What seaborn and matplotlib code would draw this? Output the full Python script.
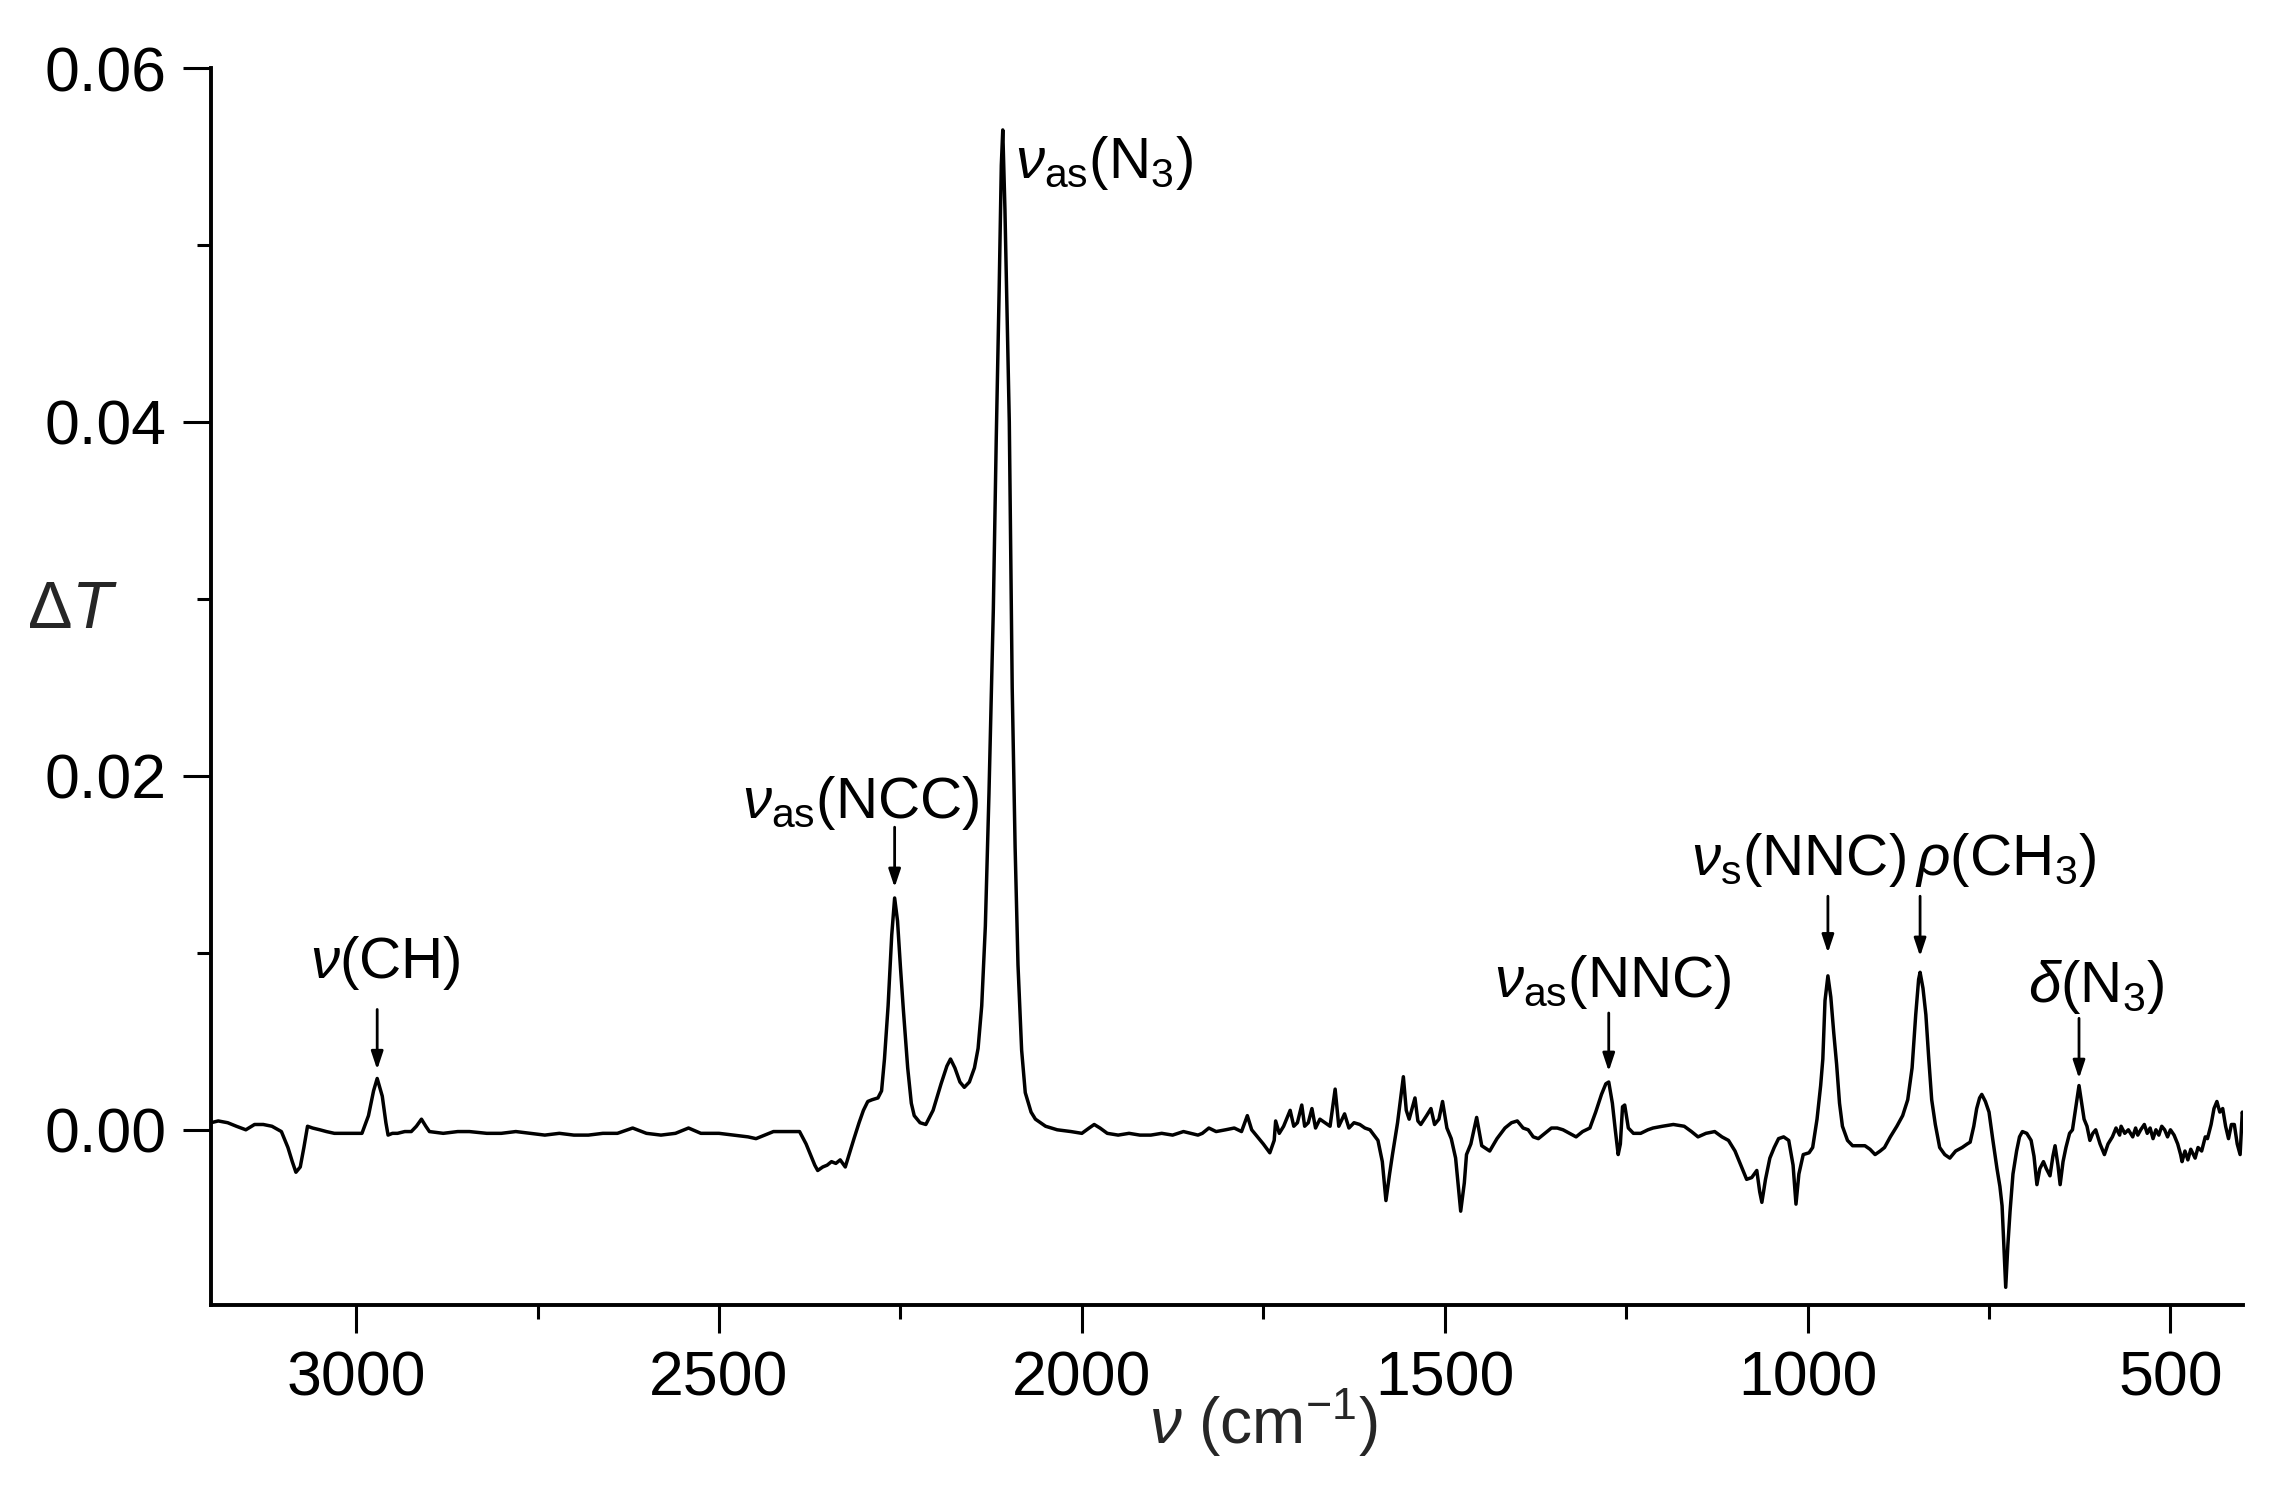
import matplotlib
matplotlib.use("Agg")
import matplotlib.pyplot as plt
from matplotlib.ticker import MultipleLocator, FormatStrFormatter
import seaborn as sns
import pandas as pd

# ---- data ----
wavenumber = [
    3200, 3190, 3177, 3165, 3152, 3140, 3128, 3116, 3103, 3094, 3088, 3083, 3077, 3072, 3067, 3060,
    3050, 3041, 3030, 3017, 3005, 2992, 2983, 2976, 2971, 2964, 2959, 2956, 2950, 2943, 2933, 2924,
    2917, 2910, 2904, 2899, 2880, 2860, 2844, 2820, 2800, 2780, 2760, 2740, 2720, 2700, 2680, 2660,
    2640, 2619, 2600, 2580, 2560, 2542, 2525, 2500, 2480, 2460, 2449, 2437, 2425, 2405, 2389, 2380,
    2376, 2368, 2364, 2357, 2351, 2345, 2339, 2333, 2326, 2320, 2314, 2307, 2301, 2295, 2289, 2281,
    2276, 2272, 2267, 2262, 2258, 2254, 2250, 2246, 2240, 2235, 2231, 2223, 2215, 2205, 2194, 2186,
    2181, 2175, 2168, 2162, 2155, 2148, 2143, 2138, 2133, 2128, 2122, 2118, 2114, 2111, 2109, 2106,
    2103, 2100, 2096, 2092, 2088, 2083, 2078, 2070, 2064, 2050, 2034, 2015, 2000, 1990, 1983, 1975,
    1965, 1950, 1935, 1920, 1905, 1890, 1875, 1860, 1850, 1840, 1834, 1825, 1815, 1802, 1790, 1780,
    1772, 1766, 1758, 1750, 1741, 1735, 1733, 1728, 1722, 1716, 1713, 1708, 1703, 1697, 1693, 1688,
    1683, 1678, 1672, 1665, 1658, 1651, 1646, 1638, 1632, 1625, 1617, 1610, 1603, 1592, 1586, 1581,
    1576, 1572, 1565, 1557, 1553, 1549, 1541, 1537, 1533, 1525, 1519, 1514, 1508, 1503, 1497, 1491,
    1485, 1478, 1473, 1470, 1464, 1456, 1449, 1438, 1428, 1417, 1408, 1400, 1392, 1385, 1378, 1371,
    1362, 1353, 1345, 1337, 1328, 1319, 1310, 1300, 1292, 1284, 1278, 1274, 1269, 1265, 1261, 1258,
    1255, 1252, 1247, 1240, 1230, 1220, 1213, 1200, 1185, 1170, 1160, 1151, 1140, 1128, 1118, 1109,
    1100, 1092, 1084, 1077, 1070, 1066, 1063, 1058, 1052, 1046, 1040, 1033, 1026, 1020, 1016, 1012,
    1006, 998, 993, 987, 982, 979, 976, 972, 968, 964, 960, 956, 952, 945, 938, 930,
    921, 914, 907, 900, 894, 886, 877, 869, 862, 856, 851, 847, 845, 841, 837, 833,
    829, 824, 818, 811, 804, 796, 787, 780, 776, 771, 767, 763, 760, 755, 750, 745,
    739, 735, 732, 729, 727, 724, 721, 717, 712, 708, 704, 698, 692, 688, 684, 680,
    675, 671, 666, 662, 659, 655, 652, 648, 644, 639, 635, 630, 626, 622, 619, 615,
    611, 607, 603, 597, 591, 586, 580, 575, 570, 568, 563, 558, 552, 548, 545, 541,
    536, 532, 528, 524, 520, 516, 512, 508, 504, 500, 495, 490, 486, 484, 480, 476,
    472, 466, 462, 457, 452, 449, 444, 440, 436, 432, 428, 424, 420, 416, 412, 408,
    404, 401, 400,
]
delta_t = [
    0.0004, 0.0005, 0.0004, 0.0002, 0.0000, 0.0003, 0.0003, 0.0002, -0.0001, -0.0010, -0.0018, -0.0024, -0.0021, -0.0010, 0.0002, 0.0001,
    0.0000, -0.0001, -0.0002, -0.0002, -0.0002, -0.0002, 0.0008, 0.0022, 0.0029, 0.0019, 0.0004, -0.0003, -0.0002, -0.0002, -0.0001, -0.0001,
    0.0002, 0.0006, 0.0002, -0.0001, -0.0002, -0.0001, -0.0001, -0.0002, -0.0002, -0.0001, -0.0002, -0.0003, -0.0002, -0.0003, -0.0003, -0.0002,
    -0.0002, 0.0001, -0.0002, -0.0003, -0.0002, 0.0001, -0.0002, -0.0002, -0.0003, -0.0004, -0.0005, -0.0003, -0.0001, -0.0001, -0.0001, -0.0008,
    -0.0012, -0.0020, -0.0023, -0.0021, -0.0020, -0.0018, -0.0019, -0.0017, -0.0021, -0.0013, -0.0005, 0.0004, 0.0011, 0.0016, 0.0017, 0.0018,
    0.0022, 0.0040, 0.0070, 0.0110, 0.0131, 0.0118, 0.0092, 0.0068, 0.0035, 0.0015, 0.0008, 0.0004, 0.0003, 0.0011, 0.0026, 0.0036,
    0.0040, 0.0035, 0.0027, 0.0024, 0.0027, 0.0035, 0.0046, 0.0070, 0.0115, 0.0190, 0.0294, 0.0390, 0.0474, 0.0545, 0.0565, 0.0520,
    0.0460, 0.0400, 0.0250, 0.0160, 0.0093, 0.0045, 0.0021, 0.0010, 0.0006, 0.0002, 0.0000, -0.0001, -0.0002, 0.0001, 0.0003, 0.0001,
    -0.0002, -0.0003, -0.0002, -0.0003, -0.0003, -0.0002, -0.0003, -0.0001, -0.0002, -0.0003, -0.0002, 0.0001, -0.0001, 0.0000, 0.0001, -0.0001,
    0.0008, 0.0000, -0.0004, -0.0008, -0.0013, -0.0006, 0.0005, -0.0002, 0.0002, 0.0008, 0.0011, 0.0002, 0.0004, 0.0014, 0.0002, 0.0004,
    0.0012, 0.0001, 0.0006, 0.0004, 0.0002, 0.0023, 0.0002, 0.0009, 0.0001, 0.0004, 0.0003, 0.0001, 0.0000, -0.0006, -0.0018, -0.0040,
    -0.0025, -0.0014, 0.0004, 0.0030, 0.0011, 0.0006, 0.0018, 0.0005, 0.0003, 0.0008, 0.0012, 0.0003, 0.0006, 0.0016, 0.0001, -0.0005,
    -0.0016, -0.0046, -0.0030, -0.0014, -0.0008, 0.0007, -0.0009, -0.0012, -0.0005, 0.0001, 0.0004, 0.0005, 0.0001, 0.0000, -0.0004, -0.0005,
    -0.0002, 0.0001, 0.0001, 0.0000, -0.0002, -0.0004, -0.0001, 0.0001, 0.0010, 0.0020, 0.0026, 0.0027, 0.0015, 0.0000, -0.0014, -0.0008,
    0.0013, 0.0014, 0.0001, -0.0002, -0.0002, 0.0000, 0.0001, 0.0002, 0.0003, 0.0002, -0.0001, -0.0004, -0.0002, -0.0001, -0.0004, -0.0006,
    -0.0012, -0.0020, -0.0028, -0.0027, -0.0023, -0.0035, -0.0041, -0.0028, -0.0016, -0.0010, -0.0005, -0.0004, -0.0006, -0.0020, -0.0042, -0.0025,
    -0.0014, -0.0013, -0.0010, 0.0006, 0.0025, 0.0040, 0.0073, 0.0087, 0.0075, 0.0055, 0.0037, 0.0015, 0.0002, -0.0006, -0.0009, -0.0009,
    -0.0009, -0.0011, -0.0014, -0.0012, -0.0010, -0.0004, 0.0002, 0.0008, 0.0017, 0.0035, 0.0065, 0.0085, 0.0089, 0.0080, 0.0065, 0.0040,
    0.0017, 0.0003, -0.0010, -0.0014, -0.0016, -0.0012, -0.0010, -0.0008, -0.0007, 0.0002, 0.0012, 0.0018, 0.0020, 0.0016, 0.0010, -0.0005,
    -0.0022, -0.0032, -0.0043, -0.0070, -0.0089, -0.0065, -0.0046, -0.0025, -0.0012, -0.0004, -0.0001, -0.0002, -0.0006, -0.0015, -0.0031, -0.0022,
    -0.0018, -0.0022, -0.0026, -0.0015, -0.0009, -0.0020, -0.0031, -0.0018, -0.0010, -0.0002, 0.0000, 0.0014, 0.0025, 0.0014, 0.0006, 0.0002,
    -0.0006, -0.0002, 0.0000, -0.0008, -0.0014, -0.0008, -0.0004, 0.0001, -0.0003, 0.0002, -0.0002, 0.0000, -0.0004, 0.0001, -0.0003, 0.0000,
    0.0003, -0.0002, 0.0001, -0.0005, 0.0000, -0.0003, 0.0002, 0.0000, -0.0004, 0.0000, -0.0003, -0.0008, -0.0014, -0.0018, -0.0012, -0.0017,
    -0.0011, -0.0016, -0.0010, -0.0012, -0.0004, -0.0005, 0.0003, 0.0012, 0.0016, 0.0010, 0.0012, 0.0002, -0.0005, 0.0003, 0.0003, -0.0008,
    -0.0014, 0.0010, 0.0008,
]

x_ticks = [3000, 2500, 2000, 1500, 1000, 500]
y_ticks = [0.00, 0.02, 0.04, 0.06]

# band labels: (text, peak wavenumber)
band_labels = [
    r"$\nu\mathrm{(CH)}$",
    r"$\nu_{\mathrm{as}}\mathrm{(NCC)}$",
    r"$\nu_{\mathrm{as}}\mathrm{(N_3)}$",
    r"$\nu_{\mathrm{as}}\mathrm{(NNC)}$",
    r"$\nu_{\mathrm{s}}\mathrm{(NNC)}$",
    r"$\rho\mathrm{(CH_3)}$",
    r"$\delta\mathrm{(N_3)}$",
]
band_peaks = [2971, 2258, 2109, 1274, 972, 845, 626]

df = pd.DataFrame({"wavenumber": wavenumber, "dT": delta_t})

# ---- style ----
sns.set_theme(style="ticks")
plt.rcParams["font.family"] = ["Liberation Sans", "DejaVu Sans"]
plt.rcParams["mathtext.fontset"] = "custom"
plt.rcParams["mathtext.rm"] = "Liberation Sans"
plt.rcParams["mathtext.it"] = "Liberation Sans:italic"
plt.rcParams["mathtext.bf"] = "Liberation Sans:bold"

fig = plt.figure(figsize=(22.86, 14.95), dpi=100)
ax = fig.add_axes([0.0923, 0.1271, 0.8889, 0.8274])

sns.lineplot(data=df, x="wavenumber", y="dT", color="black", linewidth=2.5,
             estimator=None, sort=False, ax=ax)

ax.set_xlim(3200, 400)
ax.set_ylim(-0.0099, 0.06)
ax.set_xticks(x_ticks)
ax.xaxis.set_minor_locator(MultipleLocator(250))
ax.set_yticks(y_ticks)
ax.yaxis.set_minor_locator(MultipleLocator(0.01))
ax.yaxis.set_major_formatter(FormatStrFormatter("%.2f"))

sns.despine(ax=ax)
for s in ["left", "bottom"]:
    ax.spines[s].set_linewidth(2.8)
    ax.spines[s].set_color("black")

ax.tick_params(which="major", direction="out", length=20, width=2.2, pad=12,
               labelsize=45, colors="black")
ax.tick_params(which="minor", direction="out", length=10, width=2.2, colors="black")

ax.set_xlabel(r"$\nu\ (\mathrm{cm}^{-1})$", fontsize=46)
ax.xaxis.set_label_coords(0.518, -0.066)
ax.set_ylabel(r"$\Delta \mathit{T}$", fontsize=48, rotation=0, ha="center", va="center")
ax.yaxis.set_label_coords(-0.068, 0.561)

# label placement (x in cm-1, baseline y) and arrows (tail y, tip y)
text_pos = [(2960, 0.0086), (2304, 0.0176), (1969, 0.0538), (1268, 0.0075),
            (1012, 0.0144), (727, 0.0144), (602, 0.0072)]
arrow_y = [(0.0068, 0.0034), (0.0171, 0.0137), None, (0.0066, 0.0033),
           (0.0132, 0.0100), (0.0132, 0.0098), (0.0063, 0.0029)]

for lab, pk, (tx, ty), ay in zip(band_labels, band_peaks, text_pos, arrow_y):
    ax.text(tx, ty, lab, fontsize=42, ha="center", va="baseline", color="black")
    if ay is not None:
        ax.annotate("", xy=(pk, ay[1]), xytext=(pk, ay[0]),
                    arrowprops=dict(arrowstyle="-|>,head_length=0.9,head_width=0.3",
                                    color="black", lw=2.0, shrinkA=0, shrinkB=0))

fig.savefig("out.png", dpi=100, facecolor="white")
